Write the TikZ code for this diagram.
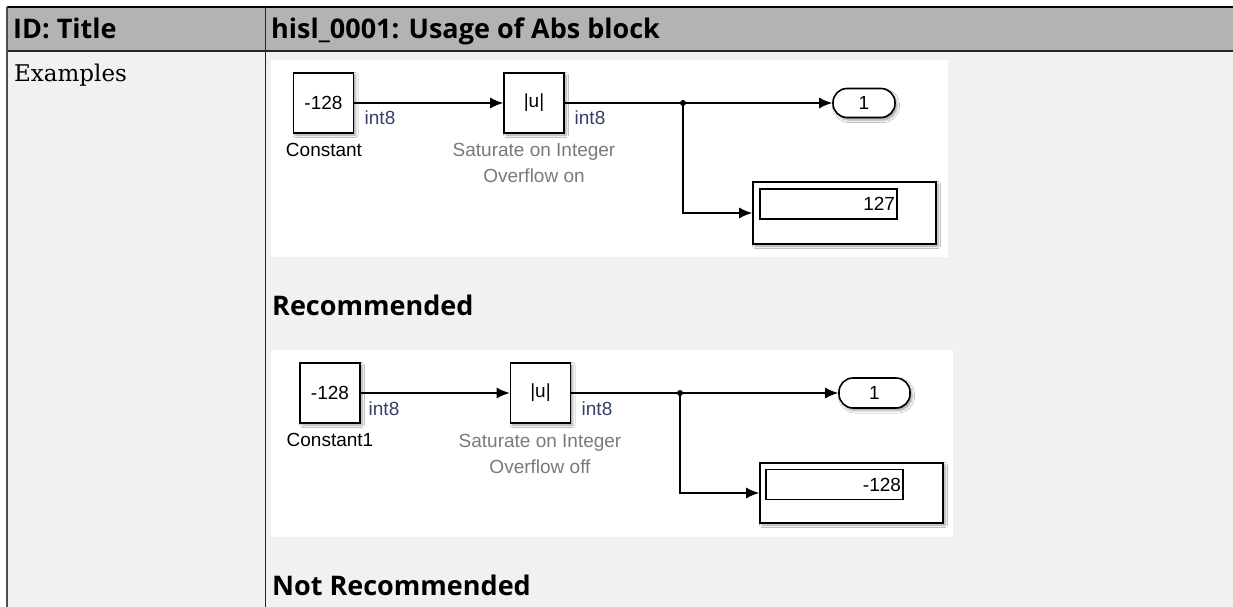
\documentclass[tikz,border=0pt]{standalone}
\usepackage{fontspec}
\setmainfont{DejaVu Serif}
\newfontfamily\headfont{Open Sans}
\newfontfamily\simfont{Liberation Sans}
\usetikzlibrary{arrows.meta,shadows.blur}
\definecolor{hdrgray}{HTML}{B3B3B3}
\definecolor{bodygray}{HTML}{F1F1F1}
\definecolor{namegray}{HTML}{7A7A7A}
\definecolor{typeblue}{HTML}{34406A}
\tikzset{>={Latex[length=13pt,width=11pt]}}
\tikzset{
  simtext/.style={font=\simfont\fontsize{19}{26}\selectfont, inner sep=0pt},
  blk/.style={simtext, draw, line width=1.6pt, fill=white, minimum width=60pt, minimum height=60pt,
    blur shadow={shadow xshift=2pt, shadow yshift=-2pt, shadow blur steps=5, shadow blur radius=2.5pt}},
  outport/.style={simtext, draw, line width=1.6pt, fill=white, rounded corners=14pt,
    blur shadow={shadow xshift=2pt, shadow yshift=-2.5pt, shadow blur steps=5, shadow blur radius=2.5pt}},
  dispbox/.style={draw, line width=1.6pt, fill=white, inner sep=0pt,
    blur shadow={shadow xshift=2pt, shadow yshift=-2pt, shadow blur steps=5, shadow blur radius=2.5pt}},
  dispval/.style={simtext, draw, line width=1.2pt, fill=white, minimum height=30pt, align=right, inner xsep=2pt},
  dtype/.style={simtext, text=typeblue},
  sig/.style={line width=1.5pt, ->},
  hdr/.style={font=\headfont\bfseries\fontsize{27}{30}\selectfont, inner sep=0pt, anchor=base west}
}

\begin{document}
\begin{tikzpicture}[x=1pt, y=-1pt]
    \useasboundingbox (0,0) rectangle (1233,607);

    % table
    \fill[hdrgray] (7,7) rectangle (1240,51);
    \fill[bodygray] (7,51) rectangle (1240,620);
    \draw[black, line width=2pt] (7,7) -- (1240,7);
    \draw[black!85, line width=2pt] (7,51) -- (1240,51);
    \draw[black!70, line width=2pt] (7,7) -- (7,620);
    \draw[black!85, line width=1.2pt] (265.5,7) -- (265.5,620);

    \node[hdr] at (13,39) (idtitle) {ID: Title};
    \node[hdr] at (271,39) (title) {hisl\_0001: Usage of Abs block};
    \node[font=\fontsize{23}{26}\selectfont, inner sep=0pt, anchor=base west] at (14,82) (examples) {Examples};

    % recommended model
    \fill[white] (271,60) rectangle (948,257);

    \node[blk] at (323.5,103) (const1) {-128};
    \node[blk] at (534,103) (abs1) {|u|};
    \coordinate (j1) at (683,103);
    \node[outport, minimum width=62pt, minimum height=29pt] at (864,103) (out1) {1};
    \node[dispbox, minimum width=183pt, minimum height=62pt] at (844.5,213) (disp1) {};
    \node[dispval, text width=133pt] at (828.5,204) (val1) {127};

    \node[dtype] at (380,118) (dt1) {int8};
    \node[dtype] at (590,118) (dt2) {int8};
    \node[simtext] at (324,150) (cname1) {Constant};
    \node[simtext, text=namegray, align=center] at (534,163) (aname1) {Saturate on Integer\\Overflow on};

    \draw[sig] (const1) -- (abs1);
    \draw[line width=1.5pt] (abs1) -- (j1);
    \draw[sig] (j1) -- (out1);
    \draw[sig] (j1) |- (disp1);
    \fill (j1) circle (3pt);

    \node[hdr] at (272,315) (rec) {Recommended};

    % not recommended model
    \fill[white] (271,350) rectangle (953,537);

    \node[blk] at (330,393) (const2) {-128};
    \node[blk] at (540.5,393) (abs2) {|u|};
    \coordinate (j2) at (680,393);
    \node[outport, minimum width=71pt, minimum height=30pt] at (874.5,393) (out2) {1};
    \node[dispbox, minimum width=183pt, minimum height=60pt] at (851.5,493) (disp2) {};
    \node[dispval, text width=133pt] at (834.5,484.5) (val2) {-128};

    \node[dtype] at (384,409) (dt3) {int8};
    \node[dtype] at (597,409) (dt4) {int8};
    \node[simtext] at (330,440) (cname2) {Constant1};
    \node[simtext, text=namegray, align=center] at (540,454) (aname2) {Saturate on Integer\\Overflow off};

    \draw[sig] (const2) -- (abs2);
    \draw[line width=1.5pt] (abs2) -- (j2);
    \draw[sig] (j2) -- (out2);
    \draw[sig] (j2) |- (disp2);
    \fill (j2) circle (3pt);

    \node[hdr] at (272,595) (notrec) {Not Recommended};

\end{tikzpicture}
\end{document}
